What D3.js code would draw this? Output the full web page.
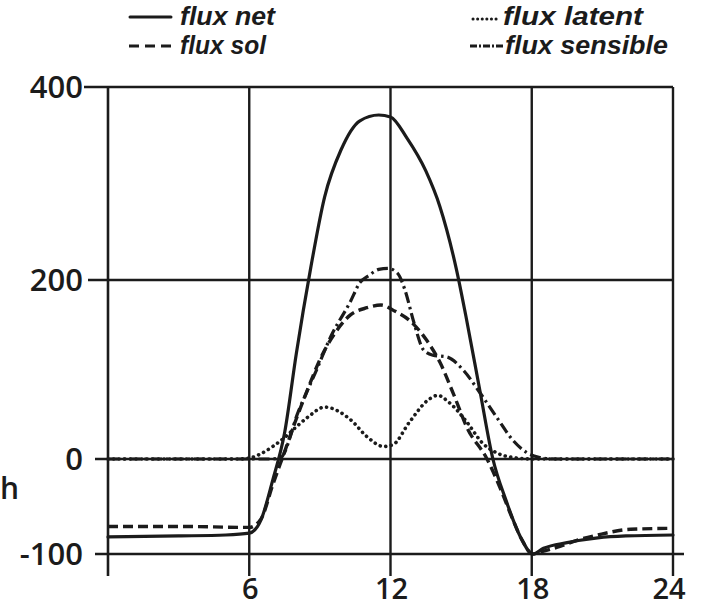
<!DOCTYPE html>
<html><head><meta charset="utf-8">
<script src="https://cdn.jsdelivr.net/npm/d3@7"></script>
<style>
html,body{margin:0;padding:0;background:#fff;}
svg{display:block;}
</style></head>
<body>
<svg id="chart" width="701" height="607"></svg>
<script>
// ---- data (hour of day, W/m²) ----
const hoursNet = [0,3,5,6,6.5,7,7.5,8,8.6,9.2,9.9,10.7,11.5,12,12.7,13.5,14.1,14.8,15.2,15.8,16.35,16.9,17.5,18.05,18.5,19.5,20.8,22,24];
const fluxNet  = [-82,-81,-80,-78,-64,-22,29,118,211,286,335,365,371,369,347,313,276,211,160,76,0,-43,-81,-100,-94,-88,-83,-81,-80];

const hoursSol = [0,3,6,6.5,7,7.5,8,8.5,9,9.6,10.3,11,11.6,12.2,12.8,13.5,14.1,14.7,15.25,16.1,16.65,17.2,17.6,18.05,18.5,19.2,20,20.8,22.2,24];
const fluxSol  = [-71,-71,-72,-63,-27,8,45,79,111,139,161,169,172,165,155,134,108,71,35,0,-30,-64,-86,-100,-97,-92,-85,-80,-74,-73];

const hoursLat = [0,5.5,6,6.5,7,7.5,8,8.5,9.2,10.3,11,11.7,12.1,12.8,13.6,14,14.5,15.25,15.9,16.5,17.4,18,24];
const fluxLat  = [0,0,1,6,14,24,36,47,58,44,25,14,16,41,66,71,63,41,18,7,1,0,0];

const hoursSens = [0,6,6.8,7.3,8.1,8.9,9.45,10.3,10.7,11.1,11.5,11.9,12.3,12.6,13,13.4,13.8,14.4,15.1,15.8,16.5,17.2,17.8,18.3,19,24];
const fluxSens  = [0,0,0,1,54,102,136,176,197,205,211,212,207,190,152,122,116,114,99,74,47,21,7,2,0,0];

const xTicks = [6,12,18,24];
const yTicks = [-100,0,200,400];
const legendLabels = ["flux net","flux sol","flux latent","flux sensible"];

// ---- layout ----
const ink = "#1b1b1b";
const svg = d3.select("#chart");
const x = d3.scaleLinear().domain([0,24]).range([108,673]);
// scanned original axis is slightly uneven: piecewise linear scale through the gridlines
const y = d3.scaleLinear().domain([-100,0,200,400]).range([554,459,280,87]);

const g = svg.append("g");
// horizontal gridlines / ticks
const hStart = {400:84, 200:88, 0:95, "-100":95};
yTicks.forEach(v=>{
  g.append("line").attr("x1",hStart[v]).attr("x2", v===-100?684:673)
   .attr("y1",y(v)).attr("y2",y(v)).attr("stroke",ink).attr("stroke-width",2.6);
});
// left axis
g.append("line").attr("x1",x(0)).attr("x2",x(0)).attr("y1",y(400)).attr("y2",576)
 .attr("stroke",ink).attr("stroke-width",2.6);
// vertical gridlines
xTicks.forEach(v=>{
  g.append("line").attr("x1",x(v)).attr("x2",x(v)).attr("y1",y(400)).attr("y2",576)
   .attr("stroke",ink).attr("stroke-width",2.4);
});

const font = "'Open Sans', 'DejaVu Sans', sans-serif";
// y tick labels
yTicks.forEach(v=>{
  svg.append("text").attr("x",83).attr("y",y(v)+11).attr("text-anchor","end")
   .attr("font-family",font).attr("font-weight",600).attr("font-size",31)
   .attr("fill",ink).text(v);
});
// x tick labels
xTicks.forEach(v=>{
  svg.append("text").attr("x",x(v)+(v===24?-4:1)).attr("y",599).attr("text-anchor","middle")
   .attr("font-family",font).attr("font-weight",600).attr("font-size",29)
   .attr("fill",ink).text(v);
});
// axis unit label at the left edge
svg.append("text").attr("x",0).attr("y",499).attr("font-family",font).attr("font-weight",600)
  .attr("font-size",30).attr("fill",ink).text("h");

// ---- curves ----
const styles = [
  {h:hoursNet, v:fluxNet,  dash:null,          cap:"round", w:3.2},
  {h:hoursSol, v:fluxSol,  dash:"10,5",        cap:"butt",  w:3.4},
  {h:hoursLat, v:fluxLat,  dash:"0.1,5.5",     cap:"round", w:3.6},
  {h:hoursSens,v:fluxSens, dash:"11,4,2.5,4",  cap:"butt",  w:3.2}
];
const line = d3.line().x(d=>x(d[0])).y(d=>y(d[1])).curve(d3.curveMonotoneX);
styles.forEach(s=>{
  const pts = s.h.map((h,i)=>[h,s.v[i]]);
  svg.append("path").attr("d",line(pts)).attr("fill","none").attr("stroke",ink)
   .attr("stroke-width",s.w).attr("stroke-linecap",s.cap).attr("stroke-linejoin","round")
   .attr("stroke-dasharray",s.dash);
});

// ---- legend ----
const legPos = [
  {lx1:130,lx2:171,ly:17,tx:180,ty:25},
  {lx1:129,lx2:171,ly:46,tx:180,ty:54},
  {lx1:473,lx2:500,ly:19,tx:503,ty:25},
  {lx1:470,lx2:505,ly:46,tx:505,ty:54}
];
legendLabels.forEach((t,i)=>{
  const p = legPos[i], s = styles[i];
  svg.append("line").attr("x1",p.lx1).attr("x2",p.lx2).attr("y1",p.ly).attr("y2",p.ly)
    .attr("stroke",ink).attr("stroke-width",i===2?3:3).attr("stroke-linecap",s.cap)
    .attr("stroke-dasharray", i===1?"10,6": i===2?"0.1,4.5": i===3?"7,2,2,2":s.dash);
  svg.append("text").attr("x",p.tx).attr("y",p.ty).attr("font-family","'Liberation Sans', Arial, sans-serif")
    .attr("font-weight","bold").attr("font-style","italic").attr("font-size",25)
    .attr("textLength", [95,86,140,163][i]).attr("lengthAdjust","spacingAndGlyphs")
    .attr("fill",ink).text(t);
});
</script>
</body></html>
